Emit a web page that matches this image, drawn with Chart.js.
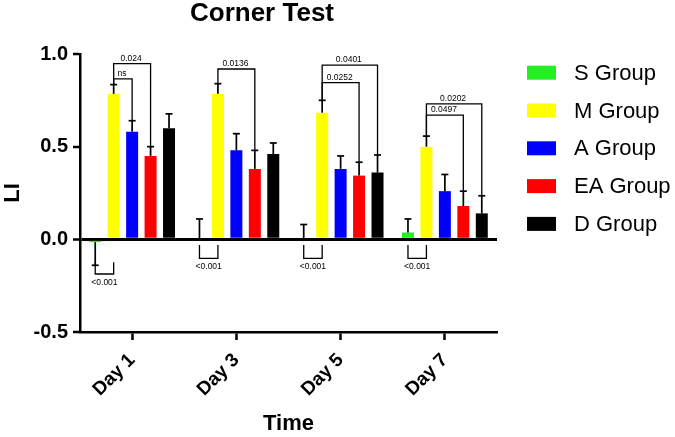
<!DOCTYPE html>
<html><head><meta charset="utf-8">
<script src="https://cdn.jsdelivr.net/npm/chart.js@4.4.1/dist/chart.umd.min.js"></script>
<style>html,body{margin:0;padding:0;background:#fff}</style>
</head><body>
<canvas id="c" width="675" height="437"></canvas>
<script>
// ---- data ----
const categories = ['Day 1', 'Day 3', 'Day 5', 'Day 7'];
const groupNames = ['S Group', 'M Group', 'A Group', 'EA Group', 'D Group'];
const groupColors = ['#22f022', '#ffff00', '#0000ff', '#ff0000', '#000000'];
const sMean  = [-0.015, 0, 0, 0.037];
const sErr   = [0.125, 0.11, 0.08, 0.073];
const mMean  = [0.785, 0.785, 0.683, 0.50];
const mErr   = [0.05, 0.055, 0.067, 0.057];
const aMean  = [0.58, 0.48, 0.38, 0.26];
const aErr   = [0.06, 0.09, 0.07, 0.09];
const eaMean = [0.45, 0.38, 0.344, 0.18];
const eaErr  = [0.05, 0.10, 0.072, 0.08];
const dMean  = [0.60, 0.46, 0.36, 0.14];
const dErr   = [0.077, 0.06, 0.095, 0.095];
const yTicks = [-0.5, 0, 0.5, 1.0];
// significance brackets (group index from/to, bracket level in LI units)
const upperBrackets = [
  {day: 0, from: 1, to: 2, level: 0.866, label: 'ns'},
  {day: 0, from: 1, to: 3, level: 0.948, label: '0.024'},
  {day: 1, from: 1, to: 3, level: 0.919, label: '0.0136'},
  {day: 2, from: 1, to: 3, level: 0.846, label: '0.0252'},
  {day: 2, from: 1, to: 4, level: 0.940, label: '0.0401'},
  {day: 3, from: 1, to: 3, level: 0.670, label: '0.0497'},
  {day: 3, from: 1, to: 4, level: 0.731, label: '0.0202'}
];
const lowerBrackets = [
  {day: 0, from: 0, to: 1, top: -0.124, bottom: -0.187, label: '<0.001'},
  {day: 1, from: 0, to: 1, top: -0.03, bottom: -0.103, label: '<0.001'},
  {day: 2, from: 0, to: 1, top: -0.03, bottom: -0.103, label: '<0.001'},
  {day: 3, from: 0, to: 1, top: -0.03, bottom: -0.103, label: '<0.001'}
];
const means = [sMean, mMean, aMean, eaMean, dMean];
const errs = [sErr, mErr, aErr, eaErr, dErr];

const FONT = '"Liberation Sans", Arial, Helvetica, sans-serif';
Chart.defaults.font.family = FONT;
Chart.defaults.color = '#000';

function seg(ctx, x0, y0, x1, y1) { ctx.beginPath(); ctx.moveTo(x0, y0); ctx.lineTo(x1, y1); ctx.stroke(); }

const annot = {
  id: 'annot',
  afterDatasetsDraw(chart) {
    const ctx = chart.ctx, ys = chart.scales.y;
    const px = v => ys.getPixelForValue(v);
    const bx = (g, d) => chart.getDatasetMeta(g).data[d].x;
    const errEnd = (g, d) => means[g][d] < 0 ? means[g][d] - errs[g][d] : means[g][d] + errs[g][d];
    ctx.save();
    ctx.strokeStyle = '#000';
    ctx.lineWidth = 1.7;
    // error bars
    means.forEach((m, g) => {
      chart.getDatasetMeta(g).data.forEach((bar, d) => {
        const y0 = px(m[d]), y1 = px(errEnd(g, d));
        seg(ctx, bar.x, y0, bar.x, y1);
        seg(ctx, bar.x - 3.5, y1, bar.x + 3.5, y1);
      });
    });
    ctx.lineWidth = 1.3;
    ctx.fillStyle = '#000';
    ctx.font = '8.5px ' + FONT;
    ctx.textAlign = 'center';
    // upper brackets
    upperBrackets.forEach(b => {
      const x0 = bx(b.from, b.day), x1 = bx(b.to, b.day);
      const yl = px(b.level);
      ctx.beginPath();
      ctx.moveTo(x0, px(errEnd(b.from, b.day)));
      ctx.lineTo(x0, yl);
      ctx.lineTo(x1, yl);
      ctx.lineTo(x1, px(errEnd(b.to, b.day)));
      ctx.stroke();
      ctx.textBaseline = 'alphabetic';
      ctx.fillText(b.label, (x0 + x1) / 2 - 1, yl - 3);
    });
    // lower brackets
    lowerBrackets.forEach(b => {
      const x0 = bx(b.from, b.day), x1 = bx(b.to, b.day);
      const yt = px(b.top), yb = px(b.bottom);
      ctx.beginPath();
      ctx.moveTo(x0, yt);
      ctx.lineTo(x0, yb);
      ctx.lineTo(x1, yb);
      ctx.lineTo(x1, yt);
      ctx.stroke();
      ctx.textBaseline = 'top';
      ctx.fillText(b.label, (x0 + x1) / 2, yb + 4);
    });
    ctx.restore();
  },
  afterDraw(chart) {
    const ctx = chart.ctx;
    ctx.save();
    // title
    ctx.fillStyle = '#000';
    ctx.font = 'bold 26px ' + FONT;
    ctx.textAlign = 'center';
    ctx.textBaseline = 'alphabetic';
    ctx.fillText('Corner Test', 262, 21);
    // legend
    ctx.font = '22px ' + FONT;
    ctx.textAlign = 'left';
    ctx.textBaseline = 'middle';
    groupNames.forEach((name, i) => {
      const yc = 72.7 + i * 37.8;
      ctx.fillStyle = groupColors[i];
      ctx.fillRect(527, yc - 7, 29, 14);
      ctx.fillStyle = '#000';
      ctx.fillText(name, 574, yc + 1);
    });
    ctx.restore();
  }
};

new Chart(document.getElementById('c'), {
  type: 'bar',
  data: {
    labels: categories,
    datasets: groupNames.map((n, i) => ({
      label: n, data: means[i], backgroundColor: groupColors[i], borderWidth: 0,
      barPercentage: 0.65, categoryPercentage: 0.885
    }))
  },
  options: {
    responsive: false,
    animation: false,
    layout: {padding: {top: 54, right: 178, left: 0, bottom: 0}},
    plugins: {legend: {display: false}, title: {display: false}, tooltip: {enabled: false}},
    scales: {
      x: {
        afterFit(s) { s.height = 105; },
        grid: {display: true, drawOnChartArea: false, offset: false, tickLength: 8, tickColor: '#000', tickWidth: 2.5},
        border: {display: true, color: '#000', width: 2.5},
        ticks: {font: {size: 19, weight: 'bold'}, color: '#000', minRotation: 45, maxRotation: 45, padding: 9},
        title: {display: true, text: 'Time', font: {size: 22, weight: 'bold'}, color: '#000', padding: {top: 0, bottom: 0}}
      },
      y: {
        min: -0.5, max: 1.0,
        afterFit(s) { s.width = 80; },
        afterBuildTicks(s) { s.ticks = yTicks.map(v => ({value: v})); },
        grid: {
          drawOnChartArea: true, tickLength: 7, tickWidth: 2.5, tickColor: '#000',
          color: c => (c.tick && c.tick.value === 0) ? '#000' : 'rgba(0,0,0,0)',
          lineWidth: c => (c.tick && c.tick.value === 0) ? 3 : 0
        },
        border: {display: true, color: '#000', width: 2.5},
        ticks: {font: {size: 20, weight: 'bold'}, color: '#000', padding: 5, callback: v => v.toFixed(1)},
        title: {display: true, text: 'LI', font: {size: 22, weight: 'bold'}, color: '#000', padding: {top: 0, bottom: 0}}
      }
    }
  },
  plugins: [annot]
});
</script>
</body></html>
